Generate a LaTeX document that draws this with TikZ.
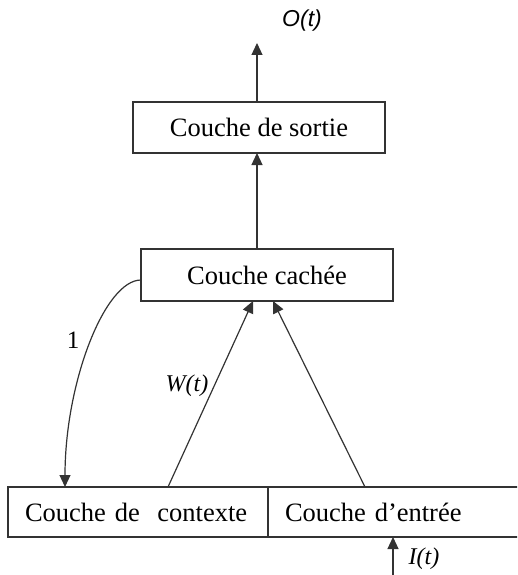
\documentclass[tikz,border=0pt]{standalone}
\usepackage{fontspec}
\setmainfont{Liberation Serif}[ItalicFont=Liberation Serif Italic]
\newfontfamily\labelsans{Liberation Sans}[ItalicFont=Liberation Sans Italic]
\newfontfamily\labelserif{Liberation Serif Italic}
\usetikzlibrary{arrows.meta,calc}
\definecolor{ink}{HTML}{333333}
\tikzset{
  layer/.style={draw=ink, line width=1.3pt, rectangle, inner sep=0pt, outer sep=0pt,
    font=\fontsize{26.5}{30}\selectfont},
  flow/.style={draw=ink, line width=1.2pt, -{Triangle[length=12pt,width=11pt]}},
  lbl/.style={inner sep=0pt, font=\fontsize{24}{28}\selectfont\labelserif},
}
\begin{document}
\begin{tikzpicture}[x=1pt,y=-1pt]
  \clip (0,0) rectangle (517,575);

  % layers
  \node[layer, minimum width=252pt, minimum height=51pt] (out) at (259,127.5) {Couche de sortie};
  \node[layer, minimum width=252pt, minimum height=52pt] (hid) at (267,275) {Couche cachée};
  \node[layer, anchor=north west, minimum height=50pt, text width=226pt,
        inner xsep=17pt, align=left] (ctx) at (8,487) {Couche de\ \ contexte};
  \node[layer, anchor=north west, minimum height=50pt, text width=266pt,
        inner xsep=17pt, align=left] (inp) at (ctx.north east) {Couche d’entrée};

  % free ends
  \coordinate (otop) at (257,43);
  \coordinate (ibot) at (393,575);

  % labels
  \node[lbl, font=\fontsize{23}{27}\selectfont\labelsans\itshape] (olbl) at (302,21) {O(t)};
  \node[lbl] (wlbl) at (187,386) {W(t)};
  \node[lbl] (ilbl) at (424,559) {I(t)};
  \node[inner sep=0pt, font=\fontsize{25}{28}\selectfont] (one) at (73,340) {1};

  % connectors
  \draw[flow] ([xshift=-2pt]out.north) -- (otop);
  \draw[flow] ([xshift=-10pt]hid.north) -- ([xshift=-2pt]out.south);
  \draw[flow] ([xshift=160pt]ctx.north west) -- ([xshift=112pt]hid.south west);
  \draw[flow] ([xshift=97pt]inp.north west) -- ([xshift=132pt]hid.south west);
  \draw[flow] (ibot) -- ([xshift=125pt]inp.south west);
  \draw[flow] ([yshift=-5pt]hid.west) .. controls +(-36,0) and +(0,-105) .. ([xshift=57pt]ctx.north west);
\end{tikzpicture}
\end{document}
